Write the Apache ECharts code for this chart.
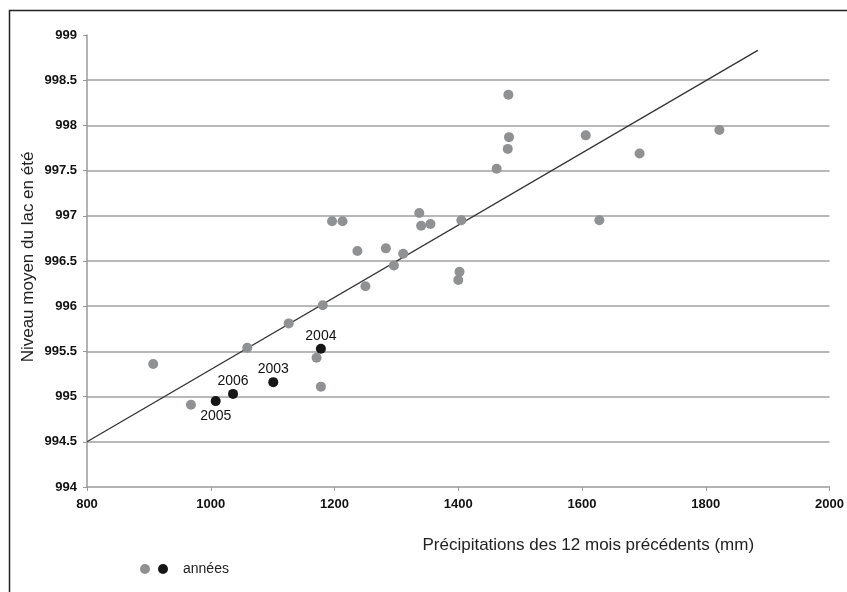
<!DOCTYPE html>
<html>
<head>
<meta charset="utf-8">
<script src="https://cdn.jsdelivr.net/npm/echarts@6/dist/echarts.min.js"></script>
<style>
html,body{margin:0;padding:0;background:#fff;}
#chart{width:847px;height:592px;}
</style>
</head>
<body>
<div id="chart"></div>
<script>
// Precipitations (mm) and summer lake level — other years (grey)
const precipOther = [1196, 1213, 1237, 1283, 1296, 1311, 1337, 1340, 1250, 1355, 1405, 1402, 1400, 1462, 1481, 1482, 1480, 1606, 1628, 1693, 1822, 1181, 1126, 1059, 907, 968, 1171, 1178];
const levelOther  = [996.94, 996.94, 996.61, 996.64, 996.45, 996.58, 997.03, 996.89, 996.22, 996.91, 996.95, 996.38, 996.29, 997.52, 998.34, 997.87, 997.74, 997.89, 996.95, 997.69, 997.95, 996.01, 995.81, 995.54, 995.36, 994.91, 995.43, 995.11];
// Highlighted years (black)
const yearNames     = ['2004', '2003', '2006', '2005'];
const precipYears   = [1178, 1101, 1036, 1008];
const levelYears    = [995.53, 995.16, 995.03, 994.95];
const labelSide     = ['top', 'top', 'top', 'bottom'];
// Trend line end points
const trendX = [800, 1884];
const trendY = [994.5, 998.83];
// Axes
const xTicks = { min: 800, max: 2000, interval: 200 };
const yTicks = { min: 994, max: 999, interval: 0.5 };

const FONT = "'Liberation Sans', Arial, sans-serif";
const GREY = '#909193';
const BLACK = '#161616';
const OTHER_NAME = 'années (autres)';
const YEAR_NAME = 'années';

const chart = echarts.init(document.getElementById('chart'));
chart.setOption({
  animation: false,
  backgroundColor: '#fff',
  textStyle: { fontFamily: FONT },
  grid: { left: 87, right: 14, top: 35, bottom: 105 },
  graphic: [{
    type: 'rect',
    shape: { x: 9.5, y: 10.5, width: 860, height: 600 },
    style: { fill: 'none', stroke: '#222', lineWidth: 1.5 },
    silent: true
  }],
  legend: {
    left: 140, top: 562, padding: 0,
    itemWidth: 10, itemHeight: 10, itemGap: 8,
    textStyle: { fontFamily: FONT, fontSize: 14, color: '#222' },
    formatter: function (n) { return n === YEAR_NAME ? YEAR_NAME : ''; },
    data: [
      { name: OTHER_NAME, icon: 'circle' },
      { name: YEAR_NAME, icon: 'circle', textStyle: { padding: [0, 0, 0, 10] } }
    ]
  },
  xAxis: {
    type: 'value',
    min: xTicks.min, max: xTicks.max, interval: xTicks.interval,
    name: 'Précipitations des 12 mois précédents (mm)',
    nameLocation: 'middle', nameGap: 50, nameMoveOverlap: false,
    nameTextStyle: { fontFamily: FONT, fontSize: 17, color: '#222', padding: [0, 0, 0, 260] },
    axisLine: { show: true, lineStyle: { color: '#9a9a9a', width: 1.5 } },
    axisTick: { show: true, length: 4, lineStyle: { color: '#9a9a9a' } },
    axisLabel: { fontFamily: FONT, fontSize: 13, fontWeight: 'bold', color: '#111', margin: 11,
      formatter: function (v) { return String(v); } },
    splitLine: { show: false }
  },
  yAxis: {
    type: 'value',
    min: yTicks.min, max: yTicks.max, interval: yTicks.interval,
    name: 'Niveau moyen du lac en été',
    nameLocation: 'middle', nameGap: 50, nameRotate: 90, nameMoveOverlap: false,
    nameTextStyle: { fontFamily: FONT, fontSize: 17, color: '#222', padding: [0, 0, 0, 8] },
    axisLine: { show: true, lineStyle: { color: '#9a9a9a', width: 1.5 } },
    axisTick: { show: true, length: 4, lineStyle: { color: '#9a9a9a' } },
    axisLabel: { fontFamily: FONT, fontSize: 13, fontWeight: 'bold', color: '#111', margin: 10,
      formatter: function (v) { return String(v); } },
    splitLine: { show: true, showMinLine: false, showMaxLine: false, lineStyle: { color: '#a0a0a0', width: 1.5 } }
  },
  series: [
    {
      name: 'tendance',
      type: 'line',
      data: trendX.map((x, i) => [x, trendY[i]]),
      symbol: 'none',
      lineStyle: { color: '#333', width: 1.3 },
      silent: true,
      z: 1
    },
    {
      name: OTHER_NAME,
      type: 'scatter',
      symbolSize: 10,
      itemStyle: { color: GREY, opacity: 1 },
      data: precipOther.map((x, i) => [x, levelOther[i]]),
      z: 2
    },
    {
      name: YEAR_NAME,
      type: 'scatter',
      symbolSize: 10,
      itemStyle: { color: BLACK, opacity: 1 },
      data: precipYears.map((x, i) => ({
        value: [x, levelYears[i]],
        label: { show: true, position: labelSide[i], distance: labelSide[i] === 'top' ? 1 : 3,
          formatter: yearNames[i], color: '#111', fontSize: 14, fontFamily: FONT }
      })),
      z: 3
    }
  ]
});
</script>
</body>
</html>
